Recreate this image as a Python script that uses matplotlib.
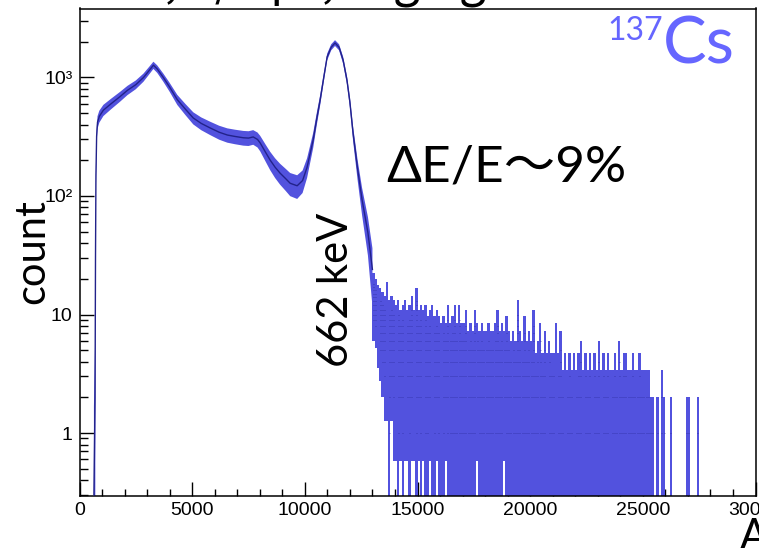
import numpy as np
import matplotlib
matplotlib.use("Agg")
import matplotlib.pyplot as plt
from matplotlib.ticker import FixedLocator, NullFormatter

# ---------------- data ----------------
spec_adc = [640, 690, 710, 730, 760, 800, 880, 1060, 1400, 1800, 2130, 2500, 2840,
            3100, 3280, 3450, 3720, 4000, 4340, 4700, 5050, 5400, 5800, 6200, 6560,
            6900, 7270, 7500, 7710, 7900, 8020, 8250, 8460, 8680, 8900, 9150, 9350,
            9660, 9900, 10100, 10370, 10530, 10680, 10840, 10990, 11170, 11340, 11520,
            11700, 11870, 12000, 12140, 12340, 12540, 12800, 13000]
spec_counts = [0.3, 2, 30, 150, 320, 420, 470, 530, 600, 690, 780, 870, 1000,
               1150, 1270, 1180, 1000, 830, 650, 540, 455, 410, 375, 345, 327,
               318, 310, 308, 315, 300, 280, 235, 201, 175, 156, 140, 128,
               122, 135, 175, 297, 450, 646, 1000, 1490, 1800, 1955, 1800,
               1400, 950, 620, 340, 170, 93, 49, 24]

tail_start = 13000
tail_bin = 100
tail_hi = [18, 16, 14, 13, 12, 11, 15, 10, 11, 10,
           9, 10, 8, 9, 10, 8, 9, 11, 8, 13,
           8, 9, 8, 9, 7, 8, 9, 7, 8, 7,
           6, 7, 6, 9, 6, 7, 9, 6, 9, 6,
           6, 8, 5, 6, 5, 8, 6, 5, 6, 5,
           5, 6, 5, 5, 6, 8, 5, 6, 5, 7,
           5, 4, 5, 4, 10, 5, 4, 7, 4, 5,
           4, 8, 3, 4, 6, 3, 5, 3, 4, 3,
           3, 6, 3, 5, 2, 3, 2, 3, 2, 3,
           2, 3, 4, 2, 3, 2, 3, 2, 3, 2,
           4, 2, 3, 2, 3, 2, 2, 3, 2, 4,
           2, 3, 3, 2, 2, 3, 2, 2, 3, 2,
           2, 2, 2, 1, 1, 0, 1, 0, 2, 1,
           0, 0, 1, 0, 0, 0, 0, 0, 0, 1,
           1, 0, 0, 0, 1, 0, 0, 0, 0, 0]
tail_lo = [9, 8, 6, 5, 4, 3, 3, 1, 3, 2,
           2, 1, 2, 1, 2, 2, 1, 2, 2, 1,
           2, 1, 2, 1, 1, 2, 1, 1, 2, 1,
           1, 1, 2, 1, 1, 1, 1, 1, 1, 1,
           1, 1, 1, 1, 1, 1, 2, 1, 1, 1,
           1, 1, 1, 1, 1, 1, 1, 1, 2, 1,
           1, 1, 1, 1, 1, 1, 1, 1, 1, 1,
           1, 1, 1, 1, 1, 1, 1, 1, 1, 1,
           1, 1, 1, 1, 1, 1, 1, 1, 1, 1,
           1, 1, 1, 1, 1, 1, 1, 1, 1, 1,
           1, 1, 1, 1, 1, 1, 1, 1, 1, 1,
           1, 1, 1, 1, 1, 1, 1, 1, 1, 1,
           1, 1, 1, 1, 1, 0, 1, 0, 1, 1,
           0, 0, 1, 0, 0, 0, 0, 0, 0, 1,
           1, 0, 0, 0, 1, 0, 0, 0, 0, 0]

x_ticks = [0, 5000, 10000, 15000, 20000, 25000, 30000]
x_tick_labels = ["0", "5000", "10000", "15000", "20000", "25000", "30000"]
y_ticks = [1, 10, 100, 1000]
y_tick_labels = ["1", "10", "10\u00b2", "10\u00b3"]

# ---------------- figure ----------------
W, H = 759, 548
fig = plt.figure(figsize=(W / 100, H / 100), dpi=100)
fig.patch.set_facecolor("white")

def fx(x):
    return x / W

def fy(y):
    return 1 - y / H

ax = fig.add_axes([fx(79.5), fy(495.5), (755.5 - 79.5) / W, (495.5 - 8.5) / H])
ymin, ymax = 0.297, 3820
ax.set_yscale("log")
ax.set_xlim(0, 30000)
ax.set_ylim(ymin, ymax)

band_col = "#5252de"
core_col = "#22228a"

# main spectrum (band of statistical spread + core line)
x = np.array(spec_adc, dtype=float)
y = np.array(spec_counts, dtype=float)
lo = np.maximum(y - 2.5 * np.sqrt(y), 1e-3)
hi = y + 2.5 * np.sqrt(y)
ax.fill_between(x, lo, hi, color=band_col, lw=0, zorder=2)
ax.plot(x, y, color=core_col, lw=1.0, zorder=3)

# tail: error bars of low-count bins
t_hi = np.array(tail_hi, dtype=float)
t_lo = np.array(tail_lo, dtype=float)
t_x = tail_start + tail_bin * np.arange(len(t_hi))
mask = t_hi > 0
top = t_hi + np.sqrt(t_hi)
bot = np.maximum(t_lo - np.sqrt(t_lo), 1e-3)
ax.bar(t_x[mask], (top - bot)[mask], bottom=bot[mask], width=tail_bin,
       align="edge", color=band_col, lw=0, zorder=2)
for xi, a, b in zip(t_x[mask], t_lo[mask], t_hi[mask]):
    for c in range(int(a), int(b) + 1):
        ax.hlines(c, xi + 25, xi + 65, color=core_col, lw=0.6, alpha=0.6, zorder=3)

# axes style (ROOT-like)
for s in ax.spines.values():
    s.set_linewidth(1.1)
    s.set_color("black")
ax.xaxis.set_major_locator(FixedLocator(x_ticks))
ax.set_xticklabels(x_tick_labels)
ax.xaxis.set_minor_locator(FixedLocator(np.arange(0, 30001, 1000)))
ax.yaxis.set_major_locator(FixedLocator(y_ticks))
ax.set_yticklabels(y_tick_labels)
minor_y = [m * 10.0 ** e for e in range(-1, 4) for m in range(2, 10)]
ax.yaxis.set_minor_locator(FixedLocator(minor_y))
ax.yaxis.set_minor_formatter(NullFormatter())
ax.tick_params(which="both", direction="in", top=False, right=False, width=1,
               colors="black")
ax.tick_params(axis="x", which="major", length=10, pad=5)
ax.tick_params(axis="x", which="minor", length=5)
ax.tick_params(axis="y", which="major", length=10, pad=5)
ax.tick_params(axis="y", which="minor", length=6)
for lab in ax.get_xticklabels() + ax.get_yticklabels():
    lab.set_fontfamily("Liberation Sans")
    lab.set_fontsize(14)

# slide annotations
fam = ["Lato", "Noto Sans CJK JP", "DejaVu Sans"]
fig.text(fx(32), fy(252), "count", rotation=90, ha="center", va="center",
         fontsize=30, family=fam, color="black")
fig.text(fx(336), fy(290), "662 keV", rotation=90, ha="center", va="center",
         fontsize=30, family=fam, color="black")
fig.text(fx(386), fy(182), "\u0394E/E\uff5e9%", ha="left", va="baseline",
         fontsize=37, family=fam, color="black")
fig.text(fx(607), fy(40), "137", ha="left", va="baseline",
         fontsize=23, family=fam, color="#6666ff")
fig.text(fx(663), fy(64), "Cs", ha="left", va="baseline",
         fontsize=47, family=fam, color="#6666ff")
fig.text(fx(740), fy(549), "ADC", ha="left", va="baseline",
         fontsize=30, family=fam, color="black")
fig.text(fx(-40), fy(-3), "\u6e29\u5ea6 25\u2103, 1/4 \u00b5s, High gain", ha="left",
         va="baseline", fontsize=34, family=["Noto Sans CJK JP", "DejaVu Sans"],
         color="black")

fig.savefig("out.png", dpi=100)
